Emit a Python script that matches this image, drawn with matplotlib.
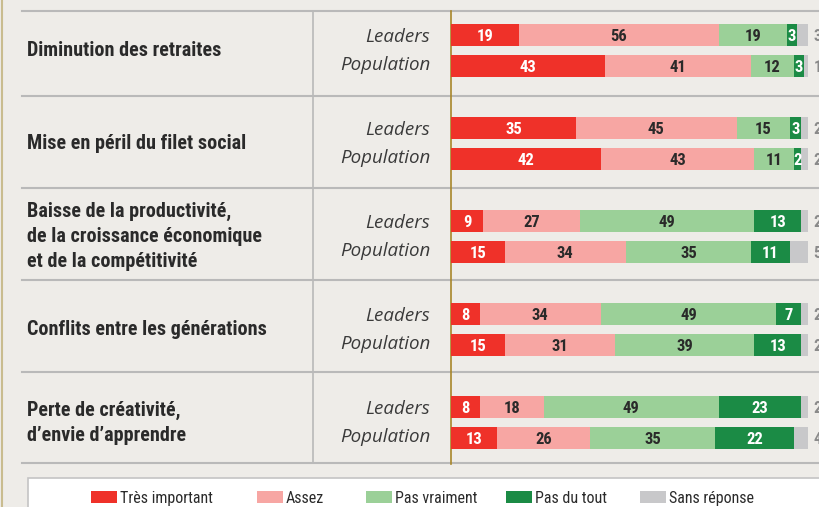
import matplotlib
matplotlib.use("Agg")
import matplotlib.pyplot as plt
from matplotlib import font_manager
from matplotlib.patches import Rectangle

# --- data -------------------------------------------------------------
themes = [
    "Diminution des retraites",
    "Mise en péril du filet social",
    "Baisse de la productivité,\nde la croissance économique\net de la compétitivité",
    "Conflits entre les générations",
    "Perte de créativité,\nd\u2019envie d\u2019apprendre",
]
groups = ["Leaders", "Population"]
categories = ["Très important", "Assez", "Pas vraiment", "Pas du tout", "Sans réponse"]

# one value per bar: Leaders / Population for each theme, top to bottom
tres_important = [19, 43, 35, 42, 9, 15, 8, 15, 8, 13]
assez = [56, 41, 45, 43, 27, 34, 34, 31, 18, 26]
pas_vraiment = [19, 12, 15, 11, 49, 35, 49, 39, 49, 35]
pas_du_tout = [3, 3, 3, 2, 13, 11, 7, 13, 23, 22]
sans_reponse = [3, 1, 2, 2, 2, 5, 2, 2, 2, 4]

# --- style ------------------------------------------------------------
colors = ["#ef3129", "#f7a6a3", "#9bd098", "#1b8b45", "#c8c8ca"]
label_colors = ["white", "#2a2a2a", "#2a2a2a", "white", "#8a8a8a"]
bg_color = "#eeece8"
line_color = "#b9b9b9"

installed = {f.name for f in font_manager.fontManager.ttflist}
narrow = "DejaVu Sans"
for cand in ["Roboto Condensed", "Liberation Sans Narrow", "DejaVu Sans Condensed"]:
    if cand in installed:
        narrow = cand
        break
italic_font = "Open Sans" if "Open Sans" in installed else "DejaVu Sans"

W, H = 820, 507
fig = plt.figure(figsize=(W / 100, H / 100), dpi=100, facecolor=bg_color)

# background axes in pixel units for the table frame and texts
bg = fig.add_axes([0, 0, 1, 1])
bg.set_xlim(0, W)
bg.set_ylim(H, 0)
bg.axis("off")

# bar axes: 0..100 % between x=451 and x=808 px, 31 px per bar slot
px_bar0, px_bar100 = 451, 808
slot, first_center = 31, 35
ax = fig.add_axes([px_bar0 / W, 0, (px_bar100 - px_bar0) / W, 1])
ax.set_xlim(0, 100)
ax.set_ylim((H - first_center) / slot, -first_center / slot)
ax.axis("off")
ax.patch.set_alpha(0)

ypos = []
for g in range(len(themes)):
    ypos += [g * 3, g * 3 + 1]

series = [tres_important, assez, pas_vraiment, pas_du_tout, sans_reponse]
left = [0] * len(ypos)
for k, vals in enumerate(series):
    ax.barh(ypos, vals, left=left, height=0.69, color=colors[k], linewidth=0)
    for y, l, v in zip(ypos, left, vals):
        if k < 4:
            ax.text(l + v / 2, y, str(v), ha="center", va="center_baseline",
                    color=label_colors[k], fontsize=12, fontweight="bold",
                    family=narrow)
        else:
            ax.text(101.5, y, str(v), ha="left", va="center_baseline",
                    color=label_colors[k], fontsize=12, fontweight="bold",
                    family=narrow, clip_on=False)
    left = [l + v for l, v in zip(left, vals)]

# table lines
bg.plot([2, 2], [0, H], color="#c9bc8f", lw=1.5)
for y in [11, 96, 188, 280, 372, 463]:
    bg.plot([22, W], [y, y], color=line_color, lw=1.5)
bg.plot([313, 313], [11, 463], color=line_color, lw=1.2)
bg.plot([px_bar0, px_bar0], [11, 464], color="#a8862a", lw=1.2)

# row texts
for g, theme in enumerate(themes):
    yc = first_center + (g * 3 + 0.5) * slot
    bg.text(27, yc, theme, ha="left", va="center", fontsize=14.5, fontweight="bold",
            color="#2a2a2a", family=narrow, linespacing=1.4)
    for j, grp in enumerate(groups):
        yy = first_center + (g * 3 + j * 0.9) * slot
        bg.text(430, yy, grp, ha="right", va="center_baseline", fontsize=13.5,
                style="italic", color="#3a3a3a", family=italic_font)

# legend
bg.add_patch(Rectangle((28, 478), W, 40, facecolor="white", edgecolor="#c4c4c4", lw=1.2))
leg_x = [91, 257, 366, 506, 640]
for cat, c, x in zip(categories, colors, leg_x):
    bg.add_patch(Rectangle((x, 491), 26, 12, facecolor=c, linewidth=0))
    bg.text(x + 29, 497, cat, ha="left", va="center_baseline", fontsize=11.5,
            color="#2a2a2a", family=narrow)

fig.savefig("out.png", dpi=100, facecolor=bg_color)
